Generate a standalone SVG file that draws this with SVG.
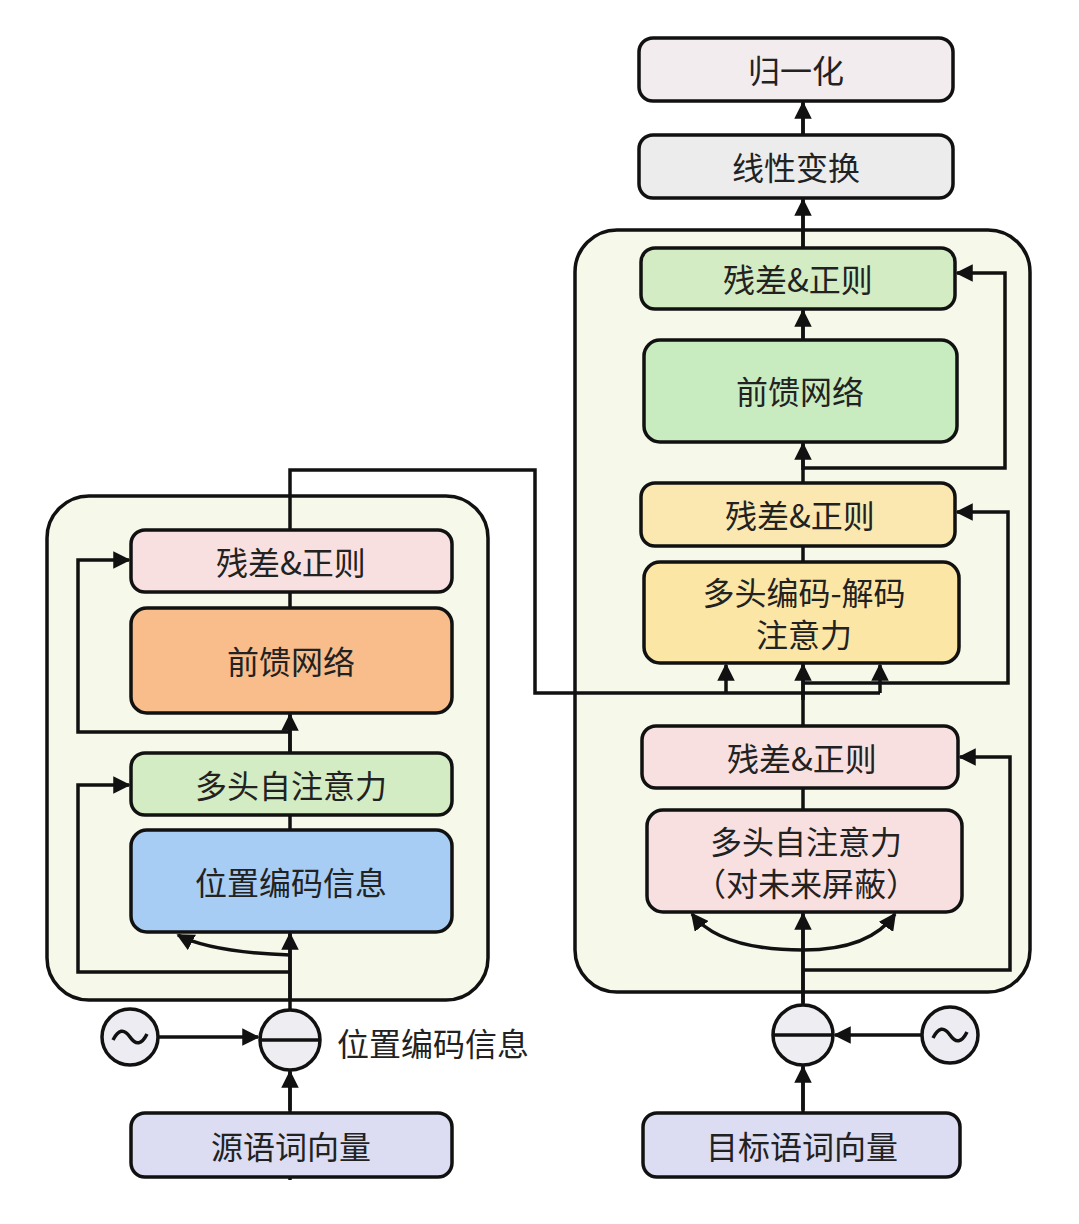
<svg xmlns="http://www.w3.org/2000/svg" width="1079" height="1224" viewBox="0 0 1079 1224">
<defs>
<marker id="ah" viewBox="0 0 10 10" refX="9" refY="5" markerWidth="5" markerHeight="5" orient="auto" markerUnits="strokeWidth"><path d="M0,0 L10,5 L0,10 z" fill="#111"/></marker>
</defs>
<style>
.box{stroke:#111;stroke-width:3.5}
.cont{fill:#f6f8ea;stroke:#111;stroke-width:3.5}
.t{font-family:"Noto Sans CJK SC","Noto Sans",sans-serif;font-size:32px;fill:#222;text-anchor:middle;dominant-baseline:central}
.ln{fill:none;stroke:#111;stroke-width:3.5}
.ar{fill:none;stroke:#111;stroke-width:3.5;marker-end:url(#ah)}
</style>
<rect width="1079" height="1224" fill="#fff"/>
<g id="encoder"><rect class="cont" x="47" y="496" width="441" height="504" rx="42"/></g>
<g id="decoder"><rect class="cont" x="575" y="230" width="455" height="762" rx="42"/></g>
<g id="connectors">
<path class="ln" d="M290,1180 V530"/>
<path class="ar" d="M290,1110 V1072"/>
<path class="ar" d="M290,1000 V934"/>
<path class="ar" d="M290,760 V715"/>
<path class="ar" d="M159,1037 H258"/>
<path class="ar" d="M290,972 H78 V785 H129"/>
<path class="ar" d="M290,732 H78 V560 H129"/>
<path class="ar" d="M290,955 Q210,952 178,935"/>
<path class="ln" d="M290,530 V470 H535 V693 H880"/>
<path class="ar" d="M726,693 V665"/>
<path class="ar" d="M880,693 V665"/>
<path class="ln" d="M803,1113 V101"/>
<path class="ar" d="M803,1110 V1067"/>
<path class="ar" d="M803,1003 V914"/>
<path class="ar" d="M922,1035 H835"/>
<path class="ar" d="M803,970 H1010 V757 H960"/>
<path class="ar" d="M803,950 Q720,950 692,914"/>
<path class="ar" d="M803,950 Q870,950 895,914"/>
<path class="ar" d="M803,700 V665"/>
<path class="ar" d="M803,683 H1008 V512 H957"/>
<path class="ar" d="M803,470 V444"/>
<path class="ar" d="M803,468 H1005 V273 H957"/>
<path class="ar" d="M803,340 V311"/>
<path class="ar" d="M803,248 V200"/>
<path class="ar" d="M803,135 V103"/>
</g>
<g id="e-add-norm2"><rect class="box" x="131" y="530" width="321" height="62" rx="14" fill="#f8e0e0"/><text class="t" x="291" y="561">残差&amp;正则</text></g>
<g id="e-ffn"><rect class="box" x="131" y="608" width="321" height="105" rx="16" fill="#f8bd8a"/><text class="t" x="291" y="660">前馈网络</text></g>
<g id="e-attn"><rect class="box" x="131" y="753" width="321" height="62" rx="14" fill="#d3ecc4"/><text class="t" x="291" y="784">多头自注意力</text></g>
<g id="e-pos"><rect class="box" x="131" y="830" width="321" height="102" rx="16" fill="#a8cdf4"/><text class="t" x="291" y="881">位置编码信息</text></g>
<g id="e-plus"><circle class="box" cx="290" cy="1040" r="30" fill="#ededf2"/><path class="ln" d="M260,1040 H320"/><text class="t" x="433" y="1042">位置编码信息</text></g>
<g id="e-sin"><circle class="box" cx="130" cy="1037" r="28" fill="#ececf2"/><path class="ln" d="M113,1040 Q121,1024 130,1037 Q139,1050 147,1034" stroke-width="2.5"/></g>
<g id="e-input"><rect class="box" x="131" y="1113" width="321" height="64" rx="14" fill="#dcdcf2"/><text class="t" x="291" y="1145">源语词向量</text></g>
<g id="d-norm"><rect class="box" x="639" y="38" width="314" height="63" rx="14" fill="#f2ecef"/><text class="t" x="796" y="69">归一化</text></g>
<g id="d-linear"><rect class="box" x="639" y="135" width="314" height="63" rx="14" fill="#ececec"/><text class="t" x="796" y="166">线性变换</text></g>
<g id="d-add-norm3"><rect class="box" x="641" y="248" width="314" height="61" rx="14" fill="#d3ecc4"/><text class="t" x="798" y="278">残差&amp;正则</text></g>
<g id="d-ffn"><rect class="box" x="644" y="340" width="313" height="102" rx="16" fill="#c9ebc0"/><text class="t" x="800" y="390">前馈网络</text></g>
<g id="d-add-norm2"><rect class="box" x="641" y="483" width="314" height="63" rx="14" fill="#fbe8b0"/><text class="t" x="800" y="514">残差&amp;正则</text></g>
<g id="d-cross"><rect class="box" x="644" y="562" width="315" height="101" rx="16" fill="#fbe6a6"/><text class="t" x="804" y="591">多头编码-解码</text><text class="t" x="804" y="633">注意力</text></g>
<g id="d-add-norm1"><rect class="box" x="642" y="726" width="316" height="62" rx="14" fill="#f8e0e0"/><text class="t" x="802" y="757">残差&amp;正则</text></g>
<g id="d-masked"><rect class="box" x="647" y="810" width="315" height="102" rx="16" fill="#f8e0e0"/><text class="t" x="806" y="840">多头自注意力</text><text class="t" x="806" y="882">（对未来屏蔽）</text></g>
<g id="d-plus"><circle class="box" cx="803" cy="1035" r="30" fill="#ededf2"/><path class="ln" d="M773,1035 H833"/></g>
<g id="d-sin"><circle class="box" cx="950" cy="1035" r="28" fill="#ececf2"/><path class="ln" d="M933,1038 Q941,1022 950,1035 Q959,1048 967,1032" stroke-width="2.5"/></g>
<g id="d-input"><rect class="box" x="643" y="1113" width="317" height="64" rx="14" fill="#dcdcf2"/><text class="t" x="802" y="1145">目标语词向量</text></g>
</svg>
